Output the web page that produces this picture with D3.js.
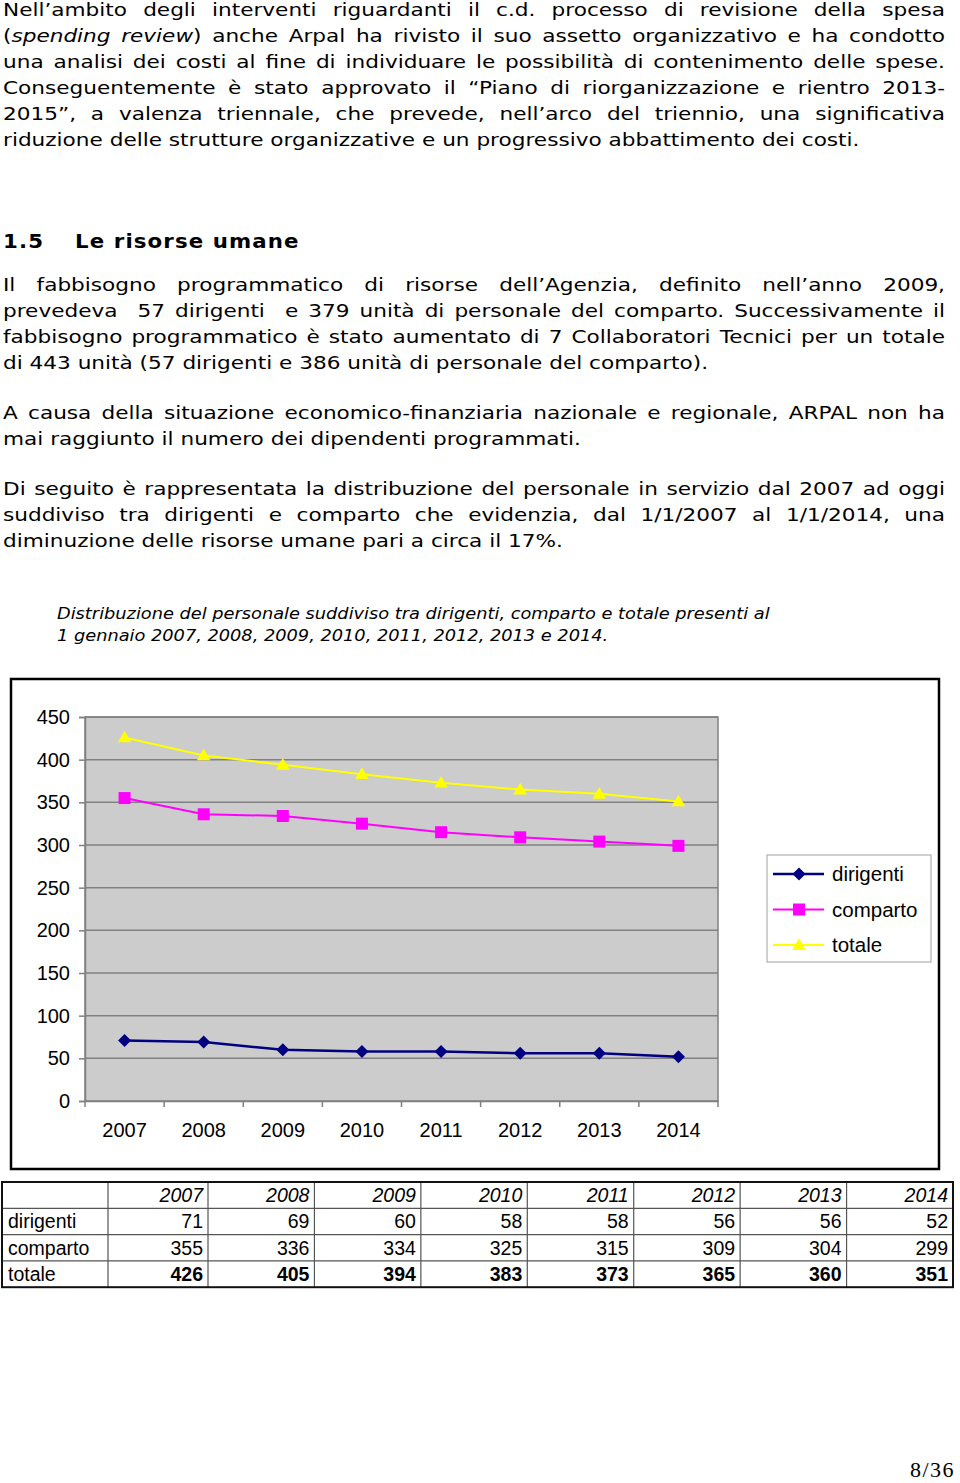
<!DOCTYPE html>
<html><head><meta charset="utf-8">
<script src="https://cdn.jsdelivr.net/npm/d3@7"></script>
<style>
html,body{margin:0;padding:0;background:#fff;}
body{width:960px;height:1483px;position:relative;overflow:hidden;font-family:"DejaVu Sans",Verdana,sans-serif;color:#000;}
.ln{position:absolute;left:3px;width:785px;font-size:18px;line-height:26px;height:26px;white-space:nowrap;transform:scaleX(1.2);transform-origin:0 0;}
.j{text-align:justify;text-align-last:justify;white-space:normal;}
.cap{position:absolute;left:57px;font-size:16px;line-height:22px;font-style:italic;white-space:nowrap;transform:scaleX(1.11);transform-origin:0 0;}
.h{position:absolute;top:228px;font-size:19px;font-weight:bold;letter-spacing:1px;line-height:26px;transform:scaleX(1.12);transform-origin:0 0;}
.pg{position:absolute;left:910px;top:1457px;font-family:"Liberation Serif","DejaVu Serif",serif;font-size:22px;letter-spacing:1.5px;}
svg{position:absolute;left:0;top:0;}
</style></head>
<body>
<div class="ln j" style="top:-3px">Nell’ambito degli interventi riguardanti il c.d. processo di revisione della spesa</div>
<div class="ln j" style="top:23px">(<i>spending review</i>) anche Arpal ha rivisto il suo assetto organizzativo e ha condotto</div>
<div class="ln j" style="top:49px">una analisi dei costi al fine di individuare le possibilità di contenimento delle spese.</div>
<div class="ln j" style="top:75px">Conseguentemente è stato approvato il “Piano di riorganizzazione e rientro 2013-</div>
<div class="ln j" style="top:101px">2015”, a valenza triennale, che prevede, nell’arco del triennio, una significativa</div>
<div class="ln" style="top:127px">riduzione delle strutture organizzative e un progressivo abbattimento dei costi.</div>

<div class="h" style="left:3px">1.5</div>
<div class="h" style="left:75px">Le risorse umane</div>

<div class="ln j" style="top:272px">Il fabbisogno programmatico di risorse dell’Agenzia, definito nell’anno 2009,</div>
<div class="ln j" style="top:298px">prevedeva&nbsp; 57 dirigenti&nbsp; e 379 unità di personale del comparto. Successivamente il</div>
<div class="ln j" style="top:324px">fabbisogno programmatico è stato aumentato di 7 Collaboratori Tecnici per un totale</div>
<div class="ln" style="top:350px">di 443 unità (57 dirigenti e 386 unità di personale del comparto).</div>

<div class="ln j" style="top:400px">A causa della situazione economico-finanziaria nazionale e regionale, ARPAL non ha</div>
<div class="ln" style="top:426px">mai raggiunto il numero dei dipendenti programmati.</div>

<div class="ln j" style="top:476px">Di seguito è rappresentata la distribuzione del personale in servizio dal 2007 ad oggi</div>
<div class="ln j" style="top:502px">suddiviso tra dirigenti e comparto che evidenzia, dal 1/1/2007 al 1/1/2014, una</div>
<div class="ln" style="top:528px">diminuzione delle risorse umane pari a circa il 17%.</div>

<div class="cap" style="top:603px">Distribuzione del personale suddiviso tra dirigenti, comparto e totale presenti al</div>
<div class="cap" style="top:625px">1 gennaio 2007, 2008, 2009, 2010, 2011, 2012, 2013 e 2014.</div>

<div class="pg">8/36</div>

<script>
// ---- data ----
const years = ["2007","2008","2009","2010","2011","2012","2013","2014"];
const seriesNames = ["dirigenti","comparto","totale"];
const dirigenti = [71,69,60,58,58,56,56,52];
const comparto = [355,336,334,325,315,309,304,299];
const totale = [426,405,394,383,373,365,360,351];
const yTicks = [0,50,100,150,200,250,300,350,400,450];

const seriesValues = [dirigenti, comparto, totale];
const colors = ["#000080","#ff00ff","#ffff00"];
const widths = [2.5,2,2];
const FONT = "'Liberation Sans',Arial,sans-serif";

// custom marker shapes
const diamond = {draw(c,s){const r=s;c.moveTo(0,-r);c.lineTo(r,0);c.lineTo(0,r);c.lineTo(-r,0);c.closePath();}};
const square = {draw(c,s){c.rect(-s,-s,2*s,2*s);}};
const tri = {draw(c,s){c.moveTo(0,-s*1.05);c.lineTo(s*1.05,s*0.75);c.lineTo(-s*1.05,s*0.75);c.closePath();}};
const shapes = [d3.symbol(diamond,6.5)(), d3.symbol(square,6)(), d3.symbol(tri,6.5)()];

const svg = d3.select("body").append("svg").attr("width",960).attr("height",1483);

// chart frame
svg.append("rect").attr("x",11).attr("y",679).attr("width",928).attr("height",490)
  .attr("fill","#fff").attr("stroke","#000").attr("stroke-width",2.5);

const x = d3.scaleBand().domain(years).range([85,718]).padding(0);
const y = d3.scaleLinear().domain([0,450]).range([1101,717]);

const g = svg.append("g");
g.append("rect").attr("x",85).attr("y",717).attr("width",633).attr("height",384)
  .attr("fill","#cccccc").attr("stroke","#808080").attr("stroke-width",1.5);

g.selectAll("line.grid").data(yTicks.filter(d=>d>0)).join("line").attr("class","grid")
  .attr("x1",85).attr("x2",718).attr("y1",d=>y(d)).attr("y2",d=>y(d))
  .attr("stroke","#808080").attr("stroke-width",1.5);

// y axis
const ya = g.append("g").attr("transform","translate(85,0)")
  .call(d3.axisLeft(y).tickValues(yTicks).tickSize(6).tickPadding(9));
ya.select(".domain").attr("stroke","#808080").attr("stroke-width",1.5);
ya.selectAll(".tick line").attr("stroke","#808080").attr("stroke-width",1.5);
ya.selectAll(".tick text").attr("font-family",FONT).attr("font-size",20).attr("fill","#000");

// x axis
const xa = g.append("g").attr("transform","translate(0,1101)")
  .call(d3.axisBottom(x).tickSize(0).tickPadding(22));
xa.select(".domain").attr("stroke","#808080").attr("stroke-width",1.5);
xa.selectAll(".tick text").attr("font-family",FONT).attr("font-size",20).attr("fill","#000");
g.selectAll("line.xt").data(years.concat(["end"])).join("line").attr("class","xt")
  .attr("x1",(d,i)=>85+i*x.bandwidth()).attr("x2",(d,i)=>85+i*x.bandwidth())
  .attr("y1",1101).attr("y2",1107).attr("stroke","#808080").attr("stroke-width",1.5);

// series
const line = d3.line().x((d,i)=>x(years[i])+x.bandwidth()/2).y(d=>y(d));
[2,1,0].forEach(k=>{
  g.append("path").datum(seriesValues[k]).attr("d",line).attr("fill","none")
    .attr("stroke",colors[k]).attr("stroke-width",widths[k]);
  g.selectAll("path.m"+k).data(seriesValues[k]).join("path").attr("class","m"+k)
    .attr("d",shapes[k]).attr("fill",colors[k])
    .attr("transform",(d,i)=>`translate(${x(years[i])+x.bandwidth()/2},${y(d)})`);
});

// legend
const lg = svg.append("g").attr("transform","translate(767,855)");
lg.append("rect").attr("width",164).attr("height",107).attr("fill","#fff").attr("stroke","#b0b0b0").attr("stroke-width",1.2);
seriesNames.forEach((n,k)=>{
  const yy = 19+k*35.5;
  lg.append("line").attr("x1",6).attr("x2",57).attr("y1",yy).attr("y2",yy).attr("stroke",colors[k]).attr("stroke-width",widths[k]);
  lg.append("path").attr("d",shapes[k]).attr("fill",colors[k]).attr("transform",`translate(32,${yy})`);
  lg.append("text").attr("x",65).attr("y",yy).attr("dy","0.35em").text(n)
    .attr("font-family",FONT).attr("font-size",20.5);
});

// table
const tblTop = 1182, rowH = 26.3;
const colEdges = [2,108].concat(d3.range(1,9).map(i=>208+(i-1)*(953-208)/7));
const tg = svg.append("g").attr("font-family",FONT).attr("font-size",19.5);
const rows = [{label:"",vals:years,style:"italic"}].concat(seriesNames.map((n,k)=>({label:n,vals:seriesValues[k],style:k===2?"bold":"normal"})));
rows.forEach((r,ri)=>{
  const yy = tblTop+ri*rowH;
  tg.append("text").attr("x",8).attr("y",yy+rowH/2).attr("dy","0.36em").text(r.label);
  r.vals.forEach((v,ci)=>{
    tg.append("text").attr("x",colEdges[ci+2]-5).attr("y",yy+rowH/2).attr("dy","0.36em")
      .attr("text-anchor","end").text(v)
      .attr("font-style",r.style==="italic"?"italic":"normal")
      .attr("font-weight",r.style==="bold"?"bold":"normal");
  });
});
for(let ri=1;ri<4;ri++){
  tg.append("line").attr("x1",2).attr("x2",953).attr("y1",tblTop+ri*rowH).attr("y2",tblTop+ri*rowH).attr("stroke","#555").attr("stroke-width",1.2);
}
colEdges.slice(1,-1).forEach(cx=>{
  tg.append("line").attr("x1",cx).attr("x2",cx).attr("y1",tblTop).attr("y2",tblTop+4*rowH).attr("stroke","#555").attr("stroke-width",1.2);
});
tg.append("rect").attr("x",2).attr("y",tblTop).attr("width",951).attr("height",4*rowH).attr("fill","none").attr("stroke","#111").attr("stroke-width",2);
</script>
</body></html>
